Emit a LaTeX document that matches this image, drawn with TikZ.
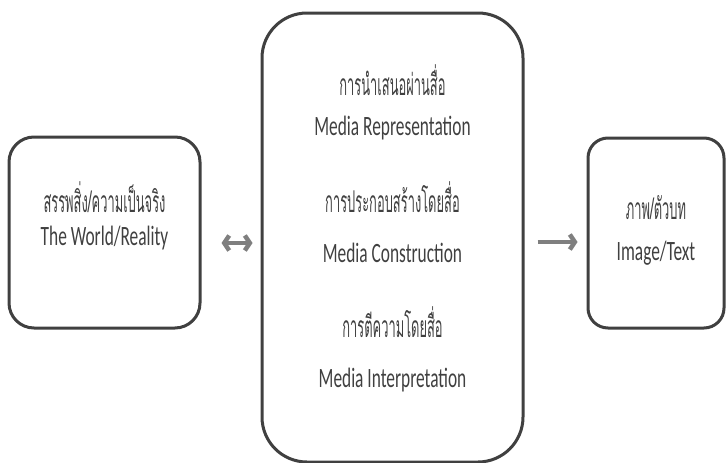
\documentclass[tikz,border=0pt]{standalone}
\usepackage{fontspec}
\setmainfont[FakeStretch=0.62]{Carlito}
\newfontfamily\thaifont[Script=Thai,FakeStretch=0.43]{Loma}
\usetikzlibrary{arrows.meta}
\definecolor{boxline}{HTML}{404040}
\definecolor{arrowgray}{HTML}{7F7F7F}
\tikzset{
  box/.style={draw=boxline,line width=3pt,inner sep=0pt},
  txt/.style={text=boxline,font=\fontsize{28}{32}\selectfont,inner sep=0pt},
  thai/.style={txt,font=\fontsize{30}{34}\selectfont\thaifont},
  conn/.style={draw=arrowgray,line width=4.5pt}
}
\begin{document}
\begin{tikzpicture}[x=1pt,y=-1pt]
  \useasboundingbox (0,0) rectangle (726,463);
  % boxes
  \node[box,rounded corners=25pt,minimum width=191pt,minimum height=191pt] (world) at (104.5,232.5) {};
  \node[box,rounded corners=45pt,minimum width=261pt,minimum height=449pt] (media) at (392.5,237.5) {};
  \node[box,rounded corners=20pt,minimum width=136pt,minimum height=190pt] (image) at (656,233) {};
  % texts
  \node[thai] (worldth) at (104.5,197) {สรรพสิ่ง/ความเป็นจริง};
  \node[txt] (worlden) at (104.5,238) {The World/Reality};
  \node[thai] (repth) at (392.5,80) {การนำเสนอผ่านสื่อ};
  \node[txt] (repen) at (392.5,128) {Media Representation};
  \node[thai] (conth) at (392.5,197) {การประกอบสร้างโดยสื่อ};
  \node[txt] (conen) at (392.5,253) {Media Construction};
  \node[thai] (intth) at (392.5,322) {การตีความโดยสื่อ};
  \node[txt] (inten) at (392.5,380) {Media Interpretation};
  \node[thai] (imageth) at (656,208) {ภาพ/ตัวบท};
  \node[txt] (imageen) at (656,253) {Image/Text};
  % arrows
  \draw[conn,{Straight Barb[length=5pt,width=15pt]}-{Straight Barb[length=5pt,width=15pt]},shorten <=20pt,shorten >=8pt]
    (world.east |- 0,243) -- (media.west |- 0,243);
  \draw[conn,-{Straight Barb[length=5pt,width=15pt]},shorten <=13pt,shorten >=9pt]
    (media.east |- 0,242) -- (image.west |- 0,242);
\end{tikzpicture}
\end{document}
